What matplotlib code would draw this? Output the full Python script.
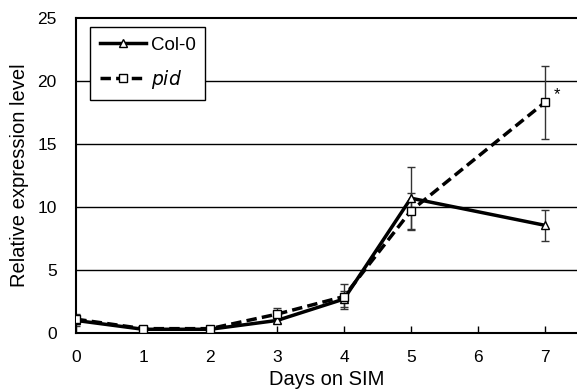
import matplotlib.pyplot as plt
import numpy as np

plt.rcParams['font.family'] = ['Liberation Sans', 'DejaVu Sans']

days = [0, 1, 2, 3, 4, 5, 7]
col0 = [1.0, 0.3, 0.3, 1.0, 2.7, 10.7, 8.55]
col0_err = [0.45, 0.1, 0.1, 0.2, 0.6, 2.5, 1.25]
pid = [1.1, 0.35, 0.35, 1.5, 2.9, 9.7, 18.3]
pid_err = [0.4, 0.1, 0.1, 0.5, 1.0, 1.45, 2.9]
xticks = [0, 1, 2, 3, 4, 5, 6, 7]
yticks = [0, 5, 10, 15, 20, 25]

fig = plt.figure(figsize=(5.77, 3.9), dpi=100)
ax = fig.add_axes([0.132, 0.146, 0.868, 0.808])

for y in yticks[1:-1]:
    ax.axhline(y, color='black', lw=1.0, zorder=0)

ax.errorbar(days, col0, yerr=col0_err, fmt='none', ecolor='#333333', elinewidth=1.0, capsize=3, zorder=1)
ax.errorbar(days, pid, yerr=pid_err, fmt='none', ecolor='#333333', elinewidth=1.0, capsize=3, zorder=1)

ax.plot(days, col0, color='black', lw=2.5, marker='^', ms=5.5, mfc='white', mec='black', mew=1.0,
        label='Col-0', zorder=3)
ax.plot(days, pid, color='black', lw=2.5, ls=(0, (3, 1.5)), marker='s', ms=5.5, mfc='white', mec='black', mew=1.0,
        label='$\\it{pid}$', zorder=3)

ax.text(7.13, 18.9, '*', fontsize=12, ha='left', va='center')

ax.set_xlim(0, 7.48)
ax.set_ylim(0, 25)
ax.set_xticks(xticks)
ax.set_yticks(yticks)
ax.tick_params(axis='x', direction='in', length=5, width=1, labelsize=12.5, pad=12)
ax.tick_params(axis='y', length=0, labelsize=12.5, pad=14)
ax.spines['right'].set_visible(False)
for s in ['left', 'top', 'bottom']:
    ax.spines[s].set_linewidth(1.5)

ax.set_xlabel('Days on SIM', fontsize=14.5, labelpad=4)
ax.set_ylabel('Relative expression level', fontsize=14.5, labelpad=6)

leg = ax.legend(loc='upper left', bbox_to_anchor=(0.028, 0.971), borderaxespad=0, fontsize=13.5, frameon=True,
                fancybox=False, edgecolor='black', framealpha=1, handlelength=2.5, handletextpad=0.25,
                labelspacing=0.75, borderpad=0.5)
leg.get_frame().set_linewidth(1.0)

fig.savefig('out.png', dpi=100)
